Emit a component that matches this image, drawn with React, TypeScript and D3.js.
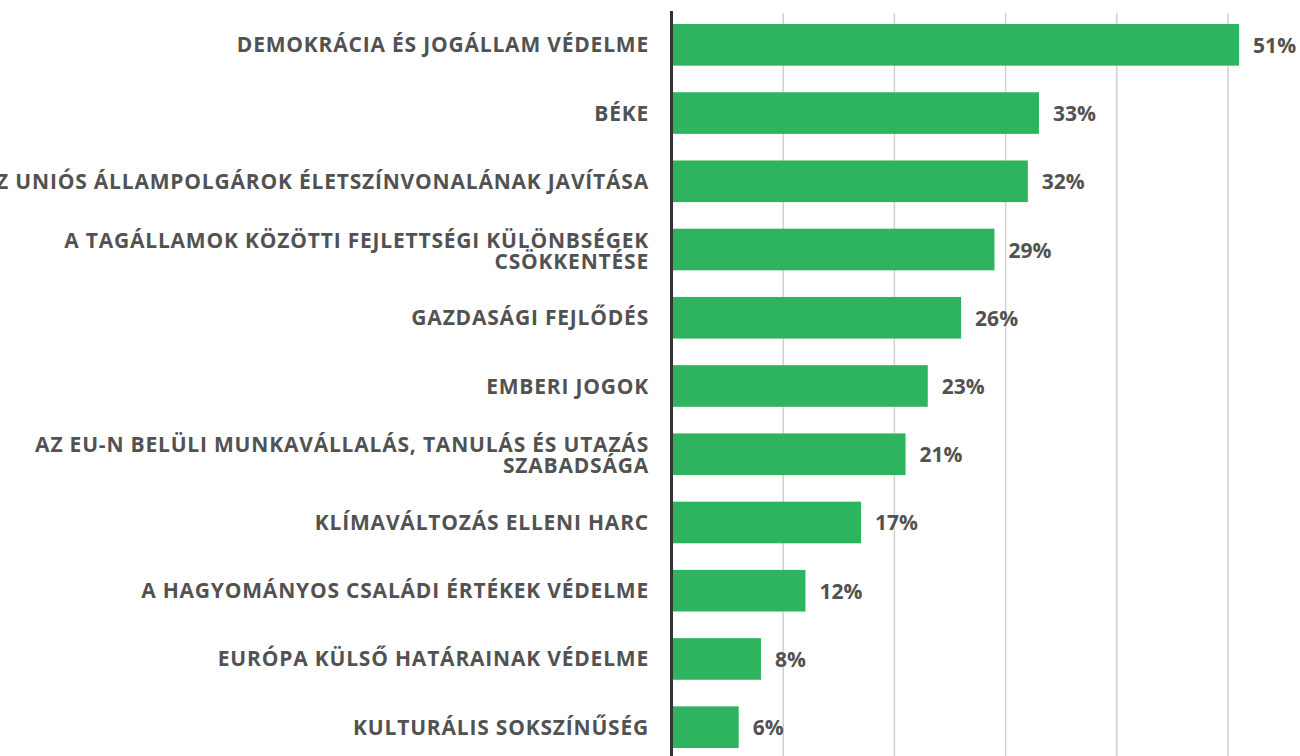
import React from "react";
import * as d3 from "d3";

const categories: string[][] = [
  ["DEMOKRÁCIA ÉS JOGÁLLAM VÉDELME"],
  ["BÉKE"],
  ["AZ UNIÓS ÁLLAMPOLGÁROK ÉLETSZÍNVONALÁNAK JAVÍTÁSA"],
  ["A TAGÁLLAMOK KÖZÖTTI FEJLETTSÉGI KÜLÖNBSÉGEK", "CSÖKKENTÉSE"],
  ["GAZDASÁGI FEJLŐDÉS"],
  ["EMBERI JOGOK"],
  ["AZ EU-N BELÜLI MUNKAVÁLLALÁS, TANULÁS ÉS UTAZÁS", "SZABADSÁGA"],
  ["KLÍMAVÁLTOZÁS ELLENI HARC"],
  ["A HAGYOMÁNYOS CSALÁDI ÉRTÉKEK VÉDELME"],
  ["EURÓPA KÜLSŐ HATÁRAINAK VÉDELME"],
  ["KULTURÁLIS SOKSZÍNŰSÉG"],
];
const values: number[] = [51, 33, 32, 29, 26, 23, 21, 17, 12, 8, 6];
const gridTicks: number[] = [10, 20, 30, 40, 50];

const W = 1300;
const H = 756;
const FONT = "'Open Sans', sans-serif";
const TEXT = "#525252";

export default function App() {
  const keys = categories.map((c) => c.join(" "));
  const x = d3.scaleLinear().domain([0, 50]).range([672, 1228]);
  const y = d3.scaleBand<string>().domain(keys).range([24, 748]).paddingInner(0.39).paddingOuter(0);
  const bw = y.bandwidth();

  return (
    <div style={{ position: "absolute", left: 0, top: 0 }}>
      <svg width={W} height={H} style={{ display: "block" }}>
        <rect width={W} height={H} fill="#ffffff" />
        {gridTicks.map((t) => (
          <line key={t} x1={x(t)} x2={x(t)} y1={13} y2={H} stroke="#d0d0d0" strokeWidth={1.5} />
        ))}
        {values.map((v, i) => (
          <rect key={i} x={x(0)} y={y(keys[i])!} width={x(v) - x(0)} height={bw} fill="#2eb45e" />
        ))}
        <line x1={671.5} x2={671.5} y1={11} y2={H} stroke="#333333" strokeWidth={3} />
        {categories.map((lines, i) => {
          const cy = y(keys[i])! + bw / 2;
          const n = lines.length;
          return lines.map((l, j) => (
            <text
              key={`${i}-${j}`}
              x={649}
              y={cy + 7.5 + (j - (n - 1) / 2) * 21 + (n > 1 ? 1 : 0)}
              textAnchor="end"
              fontFamily={FONT}
              fontWeight={700}
              fontSize={21}
              letterSpacing={0.8}
              fill={TEXT}
            >
              {l}
            </text>
          ));
        })}
        {values.map((v, i) => (
          <text
            key={i}
            x={x(v) + 14}
            y={y(keys[i])! + bw / 2 + 8}
            fontFamily={FONT}
            fontWeight={700}
            fontSize={21}
            fill={TEXT}
          >
            {v}%
          </text>
        ))}
      </svg>
    </div>
  );
}
